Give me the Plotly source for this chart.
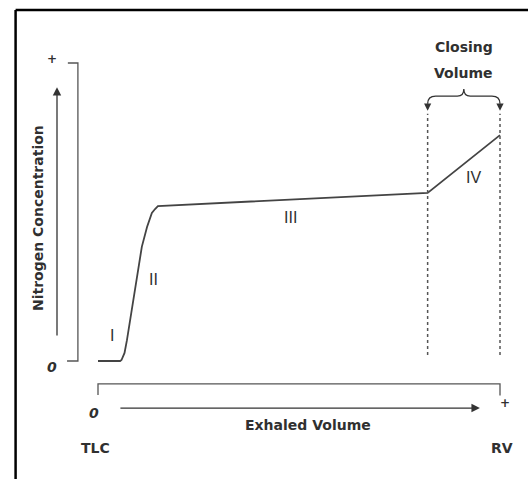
import plotly.graph_objects as go

# ---- data (volume in % of TLC->RV, nitrogen concentration in % of max) ----
volume = [0, 5.5, 5.85, 6.2, 6.6, 7.2, 8.5, 9.7, 10.9, 12.2, 12.8, 13.4, 14.2, 14.9, 82.0, 100.0]
nitrogen = [0, 0, 0.34, 1.3, 2.7, 7.0, 18.1, 29.5, 38.3, 45.0, 47.3, 49.7, 51.0, 52.0, 56.4, 75.8]

phase_labels = ["I", "II", "III", "IV"]
phase_x = [3.5, 13.7, 47.8, 93.4]
phase_y = [8.7, 27.2, 48.3, 61.6]

closing_start = 82.0
closing_end = 100.0

x_tick_labels = ["0", "+"]
y_tick_labels = ["0", "+"]
x_end_labels = ["TLC", "RV"]

FONT = "DejaVu Sans"
PFONT = "Liberation Sans Narrow, Liberation Sans"
TXT = "#303030"
LINE = "#444444"

fig = go.Figure()

# nitrogen washout curve
fig.add_trace(go.Scatter(
    x=volume, y=nitrogen, mode="lines",
    line=dict(color=LINE, width=1.8),
    hoverinfo="skip", showlegend=False,
))

# closing volume dashed lines
for xv in (closing_start, closing_end):
    fig.add_trace(go.Scatter(
        x=[xv, xv], y=[2.0, 83.0], mode="lines",
        line=dict(color="#555555", width=1.5, dash="3px,3px"),
        hoverinfo="skip", showlegend=False,
    ))

shapes = []
# outer frame (top and left)
shapes.append(dict(type="line", x0=-20.5, x1=110, y0=117.8, y1=117.8,
                   line=dict(color="black", width=2.5)))
shapes.append(dict(type="line", x0=-20.5, x1=-20.5, y0=117.8, y1=-45,
                   line=dict(color="black", width=2.5)))
# y bracket
shapes.append(dict(type="path", path="M -7.5,100 L -5,100 L -5,0 L -7.7,0",
                   line=dict(color="#555555", width=1.3)))
# x bracket
shapes.append(dict(type="path", path="M 0,-11.4 L 0,-7.7 L 100,-7.7 L 100,-11.6",
                   line=dict(color="#555555", width=1.3)))
# closing volume brace
mid = (closing_start + closing_end) / 2
brace = (f"M {closing_start},86.3 Q {closing_start},88.9 {closing_start+2},88.9 "
         f"L {mid-1.6},88.9 Q {mid},88.9 {mid},91.3 Q {mid},88.9 {mid+1.6},88.9 "
         f"L {closing_end-2},88.9 Q {closing_end},88.9 {closing_end},86.3")
shapes.append(dict(type="path", path=brace, line=dict(color="#333333", width=1.3)))

annotations = []
# axis arrows
annotations.append(dict(x=-10.2, y=91.9, ax=-10.2, ay=8.05, axref="x", ayref="y",
                        xref="x", yref="y", text="", showarrow=True,
                        arrowhead=2, arrowsize=1.3, arrowwidth=1.3, arrowcolor="#333333"))
annotations.append(dict(x=95.0, y=-15.8, ax=5.2, ay=-15.8, axref="x", ayref="y",
                        xref="x", yref="y", text="", showarrow=True,
                        arrowhead=2, arrowsize=1.3, arrowwidth=1.3, arrowcolor="#333333"))
# brace arrowheads
for xv in (closing_start, closing_end):
    annotations.append(dict(x=xv, y=84.0, ax=xv, ay=86.6, axref="x", ayref="y",
                            xref="x", yref="y", text="", showarrow=True,
                            arrowhead=2, arrowsize=1.2, arrowwidth=1.2, arrowcolor="#333333"))


def label(x, y, text, size=14, angle=0, italic=False, family=FONT, bold=True):
    annotations.append(dict(x=x, y=y, xref="x", yref="y", text=text, showarrow=False,
                            textangle=angle,
                            font=dict(family=family, size=size, color=TXT,
                                      weight="bold" if bold else "normal",
                                      style="italic" if italic else "normal")))


label(-14.9, 48.0, "Nitrogen Concentration", size=14, angle=-90)
label(-11.4, 101.2, y_tick_labels[1], size=12)
label(-11.4, -2.0, y_tick_labels[0], size=14, italic=True)
label(-1.0, -17.4, x_tick_labels[0], size=14, italic=True)
label(101.2, -14.0, x_tick_labels[1], size=12)
label(52.2, -21.5, "Exhaled Volume", size=14)
label(-0.5, -29.2, x_end_labels[0], size=14)
label(100.5, -29.2, x_end_labels[1], size=14)
label(91.0, 105.4, "Closing", size=14)
label(91.0, 96.6, "Volume", size=14)
for t, x, y in zip(phase_labels, phase_x, phase_y):
    label(x, y, t, size=16, family=PFONT, bold=False)

fig.update_layout(
    width=528, height=479,
    margin=dict(l=0, r=0, t=0, b=0),
    paper_bgcolor="white", plot_bgcolor="white",
    xaxis=dict(range=[-24.378, 106.965], visible=False, fixedrange=True),
    yaxis=dict(range=[-39.597, 121.141], visible=False, fixedrange=True),
    shapes=shapes, annotations=annotations,
    showlegend=False,
)

fig.write_html("out.html", config={"displayModeBar": False},
               post_script="document.body.style.margin='0';document.body.style.overflow='hidden';")
